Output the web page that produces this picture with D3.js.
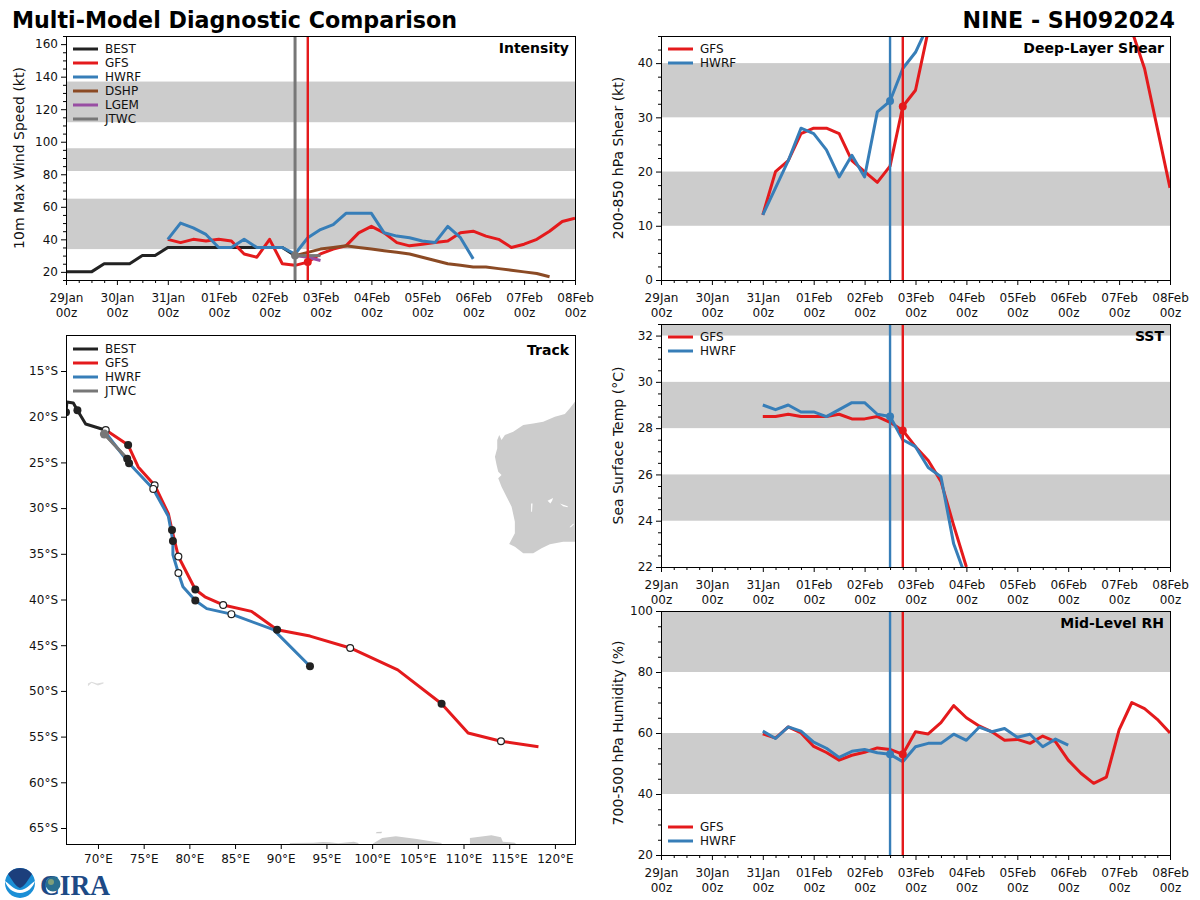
<!DOCTYPE html>
<html lang="en">
<head>
    <meta charset="UTF-8">
    <title>Multi-Model Diagnostic Comparison</title>
    <style>
        html, body { margin: 0; padding: 0; background: #fff; }
        svg { display: block; font-family: "DejaVu Sans", sans-serif; }
    </style>
    <script src="https://cdnjs.cloudflare.com/ajax/libs/d3/7.8.5/d3.min.js"></script>
</head>
<body>
<svg id="chart" width="1200" height="900"></svg>
<script>
// day labels along the time axes, hours are counted from 29Jan 00z
const dayLabels = ['29Jan', '30Jan', '31Jan', '01Feb', '02Feb', '03Feb', '04Feb', '05Feb', '06Feb', '07Feb', '08Feb'];
const stepHours = 6;
const modelStart = 48;      // models start at 31Jan 00z
const analysisHour = 108;   // 02Feb 12z
const gfsHour = 114;        // 02Feb 18z

// intensity (kt)
const bestWind = [20, 20, 20, 25, 25, 25, 30, 30, 35, 35, 35, 35, 35, 35, 35, 35, 35, 35, 30];
const gfsWind = [40, 38, 40, 39, 40, 39, 31, 29, 40, 25, 24, 26, 31, 34, 36, 44, 48, 44, 38, 36, 37, 38, 39, 44, 45, 42, 40, 35, 37, 40, 45, 51, 53];
const hwrfWind = [40, 50, 47, 43, 35, 35, 40, 35, 35, 35, 31, 41, 46, 49, 56, 56, 56, 44, 42, 41, 39, 38, 48, 41, 28];
const dshpWind = [30, 32, 34, 35, 36, 35, 34, 33, 32, 31, 29, 27, 25, 24, 23, 23, 22, 21, 20, 19, 17];
const lgemWind = [30, 29, 27];
const jtwcWind = [30, 30, 30];
const windBands = [[34, 65], [82, 96], [112, 137]];
const windTicks = [20, 40, 60, 80, 100, 120, 140, 160];

// deep-layer shear (kt), null is off the top of the axis
const gfsShear = [12, 20, 22, 27, 28, 28, 27, 22, 20, 18, 21, 32, 35, 46, null, null, null, null, null, null, null, null, null, null, null, null, null, null, null, 46, 39, 28, 17];
const hwrfShear = [12, 17, 22, 28, 27, 24, 19, 23, 19, 31, 33, 39, 42, 47];
const shearBands = [[10, 20], [30, 40]];
const shearTicks = [0, 10, 20, 30, 40];

// sea surface temperature (C), curves leave the axis at the bottom
const gfsSst = [28.5, 28.5, 28.6, 28.5, 28.5, 28.5, 28.6, 28.4, 28.4, 28.5, 28.25, 27.9, 27.2, 26.6, 25.7, 23.8, 22];
const hwrfSst = [29, 28.8, 29, 28.7, 28.7, 28.5, 28.8, 29.1, 29.1, 28.6, 28.5, 27.5, 27.2, 26.3, 25.9, 23, 21.5];
const sstBands = [[24, 26], [28, 30], [32, 33]];
const sstTicks = [22, 24, 26, 28, 30, 32];

// mid-level humidity (%)
const gfsRh = [59.7, 58.3, 62, 60, 55.6, 53.6, 51.1, 52.7, 53.7, 55.1, 54.6, 53, 60.4, 59.7, 63.4, 69, 65, 62.3, 60.4, 57.6, 57.9, 56.6, 59, 57.2, 51.1, 46.8, 43.5, 45.5, 61, 70, 68, 64.5, 60];
const hwrfRh = [60.6, 58.2, 62, 60.6, 57, 55, 52, 54, 54.6, 53.5, 53, 50.6, 55.5, 56.6, 56.6, 59.6, 57.6, 61.9, 60.4, 61.5, 58.6, 59.6, 55.5, 58, 56];
const rhBands = [[40, 60], [80, 100]];
const rhTicks = [20, 40, 60, 80, 100];

// tracks, marker codes: 0 none, 1 filled, 2 open
const bestLon = [66.5, 66.6, 67.3, 67.75, 68.65, 70.6, 70.7];
const bestLat = [-19.5, -18.4, -18.5, -19.3, -20.8, -21.4, -21.9];
const bestMark = [1, 0, 0, 1, 0, 0, 0];
const gfsLon = [70.85, 73.3, 74.4, 76.2, 77.7, 78.1, 78.8, 80.65, 81.7, 83.7, 86.8, 89.6, 93.2, 97.6, 102.8, 107.6, 110.5, 114.1, 118.2];
const gfsLat = [-21.45, -23.1, -25.5, -27.5, -30.6, -32.4, -35.3, -38.9, -39.7, -40.6, -41.3, -43.3, -44, -45.3, -47.7, -51.4, -54.6, -55.5, -56.1];
const gfsMark = [2, 1, 0, 2, 0, 1, 2, 1, 0, 2, 0, 1, 0, 2, 0, 1, 0, 2, 0];
const hwrfLon = [70.8, 73.4, 76.05, 77.7, 78.2, 78.2, 78.8, 79.3, 80.65, 81.9, 84.6, 89.2, 93.2];
const hwrfLat = [-21.7, -25.1, -27.9, -30.9, -33.6, -35.1, -37.1, -38.6, -40.1, -41, -41.6, -43.3, -47.3];
const hwrfMark = [0, 1, 2, 0, 1, 0, 2, 0, 1, 0, 2, 0, 1];
const jtwcLon = [70.7, 73.2];
const jtwcLat = [-21.9, -24.6];
const lonTicks = [70, 75, 80, 85, 90, 95, 100, 105, 110, 115, 120];
const latTicks = [-15, -20, -25, -30, -35, -40, -45, -50, -55, -60, -65];

// land outlines as [lon, lat]
const australia = [[123, -18.36], [122.19, -18.36], [121.64, -19.08], [121.09, -19.7], [120, -20], [118.72, -20.54], [117.63, -20.73], [116.54, -20.91], [115.44, -21.64], [114.53, -22], [114.16, -22.55], [113.91, -22], [113.69, -22.55], [113.69, -23.46], [113.44, -24.37], [113.62, -25.28], [113.8, -26.01], [114.16, -26.38], [113.8, -26.74], [114.16, -27.66], [114.71, -28.75], [115.26, -29.84], [115.62, -31.48], [115.62, -32.76], [115, -33.93], [115.62, -34.22], [116.54, -34.95], [117.63, -34.95], [118.54, -34.4], [119.45, -33.96], [120.91, -33.67], [123, -33.67]];
const lakes = [
    [[117.4, -29.5], [117.55, -29.5], [117.5, -30.4], [117.4, -30.4]],
    [[119.2, -29.2], [119.8, -28.9], [119.7, -29.2], [119.5, -29.5]],
    [[120.55, -29.5], [121, -29.65], [121.4, -29.8], [121.4, -29.9], [120.9, -29.8]],
    [[121.6, -32.1], [122, -31.7], [122.1, -31.75], [121.75, -32.1]]
];
const antarctica = [
    [[100.1, -67], [100.1, -66.7], [101.1, -66.1], [102.6, -65.9], [104.9, -66.2], [107.6, -66.64], [107.6, -67]],
    [[110.7, -67], [110.7, -66.1], [113.05, -65.8], [114.1, -66], [114.3, -66.5], [115.6, -66.6], [116, -67]],
    [[91, -67], [91, -66.64], [93.6, -66.6], [94.6, -66.53], [95.3, -66.57], [96.3, -66.67], [97.99, -66.5], [98.5, -66.65], [98.5, -67]],
    [[100.5, -65.44], [101.1, -65.4], [101, -65.58], [100.4, -65.58]]
];
const kerguelen = [[68.9, -49.5], [69.3, -49.1], [70, -49.4], [70.6, -49.2], [70.6, -49.05], [69.9, -49.2], [69.3, -49], [68.9, -49.2]];

const colors = { BEST: '#222222', GFS: '#e41a1c', HWRF: '#377eb8', DSHP: '#8b4a24', LGEM: '#984ea3', JTWC: '#777777' };
const bandColor = '#cccccc';

const svg = d3.select('#chart');
const hourScale = (x0, x1) => d3.scaleLinear().domain([0, 240]).range([x0, x1]);

function makeClip(id, x0, y0, w, h) {
    svg.append('clipPath').attr('id', id).append('rect')
        .attr('x', x0).attr('y', y0).attr('width', w).attr('height', h);
}

function addLegend(g, x, y, names) {
    names.forEach((name, i) => {
        g.append('line')
            .attr('x1', x).attr('x2', x + 25)
            .attr('y1', y + i * 14).attr('y2', y + i * 14)
            .attr('stroke', colors[name]).attr('stroke-width', 3);
        g.append('text')
            .attr('x', x + 32).attr('y', y + i * 14 + 4)
            .attr('font-size', 12).attr('fill', '#111')
            .text(name);
    });
}

function addCornerTitle(g, x, y, label) {
    g.append('text')
        .attr('x', x).attr('y', y)
        .attr('text-anchor', 'end')
        .attr('font-size', 14).attr('font-weight', 'bold')
        .text(label);
}

function styleAxis(a) {
    a.selectAll('path').attr('stroke', '#000');
    a.selectAll('line').attr('stroke', '#000');
    a.selectAll('text').attr('fill', '#111').attr('font-family', 'DejaVu Sans').attr('font-size', 12);
}

// one time series panel, series are {name, start, values}
function drawPanel(o) {
    const x = hourScale(o.x0, o.x0 + 509);
    const y = d3.scaleLinear().domain(o.domain).range([o.y1, o.y0]);
    const clipId = 'clip-' + o.id;
    makeClip(clipId, o.x0, o.y0, 509, o.y1 - o.y0);

    const g = svg.append('g');
    const plot = g.append('g').attr('clip-path', `url(#${clipId})`);

    plot.selectAll('rect.band').data(o.bands).enter().append('rect')
        .attr('class', 'band')
        .attr('x', o.x0).attr('width', 509)
        .attr('y', d => y(d[1]))
        .attr('height', d => y(d[0]) - y(d[1]))
        .attr('fill', bandColor);

    o.series.forEach(s => {
        const line = d3.line()
            .defined(d => d != null)
            .x((d, i) => x(s.start + i * stepHours))
            .y(d => y(d));
        plot.append('path')
            .attr('d', line(s.values))
            .attr('fill', 'none')
            .attr('stroke', colors[s.name])
            .attr('stroke-width', 3)
            .attr('stroke-linejoin', 'round');
    });

    o.vlines.forEach(v => {
        plot.append('line')
            .attr('x1', x(v.hour)).attr('x2', x(v.hour))
            .attr('y1', o.y0).attr('y2', o.y1)
            .attr('stroke', colors[v.name]).attr('stroke-width', v.name === 'JTWC' ? 3 : 2.4);
        const s = o.series.find(d => d.name === v.name);
        plot.append('circle')
            .attr('cx', x(v.hour))
            .attr('cy', y(s.values[(v.hour - s.start) / stepHours]))
            .attr('r', 4)
            .attr('fill', colors[v.name]);
    });

    const xAxis = d3.axisBottom(x)
        .tickValues(d3.range(0, 241, 24))
        .tickFormat((d, i) => dayLabels[i])
        .tickSize(5).tickSizeOuter(0);
    const xMinor = d3.axisBottom(x)
        .tickValues(d3.range(0, 241, stepHours).filter(h => h % 24))
        .tickFormat('').tickSize(3).tickSizeOuter(0);
    const yAxis = d3.axisLeft(y).tickValues(o.ticks).tickSize(5).tickSizeOuter(0);
    const yMinor = d3.axisLeft(y)
        .tickValues(d3.range(o.domain[0], o.domain[1] + 0.001, o.minor).filter(v => !o.ticks.includes(v)))
        .tickFormat('').tickSize(3).tickSizeOuter(0);

    const gx = g.append('g').attr('transform', `translate(0,${o.y1})`).call(xAxis);
    const gxm = g.append('g').attr('transform', `translate(0,${o.y1})`).call(xMinor);
    const gy = g.append('g').attr('transform', `translate(${o.x0},0)`).call(yAxis);
    const gym = g.append('g').attr('transform', `translate(${o.x0},0)`).call(yMinor);
    [gx, gxm, gy, gym].forEach(styleAxis);

    gx.selectAll('.tick text').each(function (d, i) {
        const t = d3.select(this).text(null).attr('y', 0).attr('dy', null);
        t.append('tspan').attr('x', 0).attr('y', 22).text(dayLabels[i]);
        t.append('tspan').attr('x', 0).attr('y', 37).text('00z');
    });

    g.append('rect')
        .attr('x', o.x0 + 0.5).attr('y', o.y0 + 0.5)
        .attr('width', 509).attr('height', o.y1 - o.y0)
        .attr('fill', 'none').attr('stroke', '#000').attr('stroke-width', 1);

    g.append('text')
        .attr('transform', `translate(${o.labelX},${(o.y0 + o.y1) / 2}) rotate(-90)`)
        .attr('text-anchor', 'middle')
        .attr('font-size', 14).attr('fill', '#111')
        .text(o.ylabel);

    addLegend(g, o.x0 + 7, o.legendY, o.legend);
    addCornerTitle(g, o.x0 + 503, o.y0 + 17, o.title);
}

drawPanel({
    id: 'wind', x0: 66, y0: 36, y1: 280, domain: [15, 165], ticks: windTicks, minor: 5,
    bands: windBands, ylabel: '10m Max Wind Speed (kt)', labelX: 24, title: 'Intensity',
    legend: ['BEST', 'GFS', 'HWRF', 'DSHP', 'LGEM', 'JTWC'], legendY: 49,
    series: [
        { name: 'BEST', start: 0, values: bestWind },
        { name: 'GFS', start: modelStart, values: gfsWind },
        { name: 'HWRF', start: modelStart, values: hwrfWind },
        { name: 'DSHP', start: analysisHour, values: dshpWind },
        { name: 'LGEM', start: analysisHour, values: lgemWind },
        { name: 'JTWC', start: analysisHour, values: jtwcWind }
    ],
    vlines: [{ name: 'GFS', hour: gfsHour }, { name: 'JTWC', hour: analysisHour }]
});

drawPanel({
    id: 'shear', x0: 661, y0: 36, y1: 280, domain: [0, 45], ticks: shearTicks, minor: 2.5,
    bands: shearBands, ylabel: '200-850 hPa Shear (kt)', labelX: 623, title: 'Deep-Layer Shear',
    legend: ['GFS', 'HWRF'], legendY: 49,
    series: [
        { name: 'GFS', start: modelStart, values: gfsShear },
        { name: 'HWRF', start: modelStart, values: hwrfShear }
    ],
    vlines: [{ name: 'GFS', hour: gfsHour }, { name: 'HWRF', hour: analysisHour }]
});

drawPanel({
    id: 'sst', x0: 661, y0: 324, y1: 567, domain: [22, 32.5], ticks: sstTicks, minor: 0.5,
    bands: sstBands, ylabel: 'Sea Surface Temp (°C)', labelX: 623, title: 'SST',
    legend: ['GFS', 'HWRF'], legendY: 337,
    series: [
        { name: 'GFS', start: modelStart, values: gfsSst },
        { name: 'HWRF', start: modelStart, values: hwrfSst }
    ],
    vlines: [{ name: 'GFS', hour: gfsHour }, { name: 'HWRF', hour: analysisHour }]
});

drawPanel({
    id: 'rh', x0: 661, y0: 611, y1: 855, domain: [20, 100], ticks: rhTicks, minor: 5,
    bands: rhBands, ylabel: '700-500 hPa Humidity (%)', labelX: 623, title: 'Mid-Level RH',
    legend: ['GFS', 'HWRF'], legendY: 827,
    series: [
        { name: 'GFS', start: modelStart, values: gfsRh },
        { name: 'HWRF', start: modelStart, values: hwrfRh }
    ],
    vlines: [{ name: 'GFS', hour: gfsHour }, { name: 'HWRF', hour: analysisHour }]
});

// track map
function drawTrack() {
    const x0 = 66, x1 = 575, y0 = 335, y1 = 844;
    const lonX = d3.scaleLinear().domain([66.5, 122.2]).range([x0, x1]);
    const latY = d3.scaleLinear().domain([-66.75, -11.06]).range([y1, y0]);
    makeClip('clip-track', x0, y0, x1 - x0, y1 - y0);

    const g = svg.append('g');
    const plot = g.append('g').attr('clip-path', 'url(#clip-track)');
    const outline = d3.line().x(d => lonX(d[0])).y(d => latY(d[1]));

    [australia, ...antarctica].forEach(poly => {
        plot.append('path').attr('d', outline(poly) + 'Z').attr('fill', bandColor);
    });
    plot.append('path').attr('d', outline(kerguelen) + 'Z').attr('fill', '#dddddd');
    lakes.forEach(poly => {
        plot.append('path').attr('d', outline(poly) + 'Z').attr('fill', '#fff');
    });

    const tracks = [
        { name: 'BEST', lon: bestLon, lat: bestLat, mark: bestMark },
        { name: 'JTWC', lon: jtwcLon, lat: jtwcLat, mark: [0, 1] },
        { name: 'GFS', lon: gfsLon, lat: gfsLat, mark: gfsMark },
        { name: 'HWRF', lon: hwrfLon, lat: hwrfLat, mark: hwrfMark }
    ];
    tracks.forEach(t => {
        const pts = t.lon.map((lon, i) => [lon, t.lat[i]]);
        plot.append('path')
            .attr('d', outline(pts))
            .attr('fill', 'none')
            .attr('stroke', colors[t.name])
            .attr('stroke-width', 3)
            .attr('stroke-linejoin', 'round');
    });
    // JTWC line sits on top of the models near the start, markers go last
    const jtwcPts = jtwcLon.map((lon, i) => [lon, jtwcLat[i]]);
    plot.append('path').attr('d', outline(jtwcPts)).attr('fill', 'none')
        .attr('stroke', colors.JTWC).attr('stroke-width', 3);
    tracks.forEach(t => {
        t.lon.forEach((lon, i) => {
            if (!t.mark[i]) return;
            plot.append('circle')
                .attr('cx', lonX(lon)).attr('cy', latY(t.lat[i]))
                .attr('r', t.mark[i] === 1 ? 4 : 3.4)
                .attr('fill', t.mark[i] === 1 ? '#222' : '#fff')
                .attr('stroke', '#222').attr('stroke-width', t.mark[i] === 1 ? 0 : 1.2);
        });
    });
    plot.append('circle')
        .attr('cx', lonX(jtwcLon[0])).attr('cy', latY(jtwcLat[0]))
        .attr('r', 4.5).attr('fill', colors.JTWC);

    const xAxis = d3.axisBottom(lonX).tickValues(lonTicks).tickFormat(d => d + '°E').tickSize(5).tickSizeOuter(0);
    const yAxis = d3.axisLeft(latY).tickValues(latTicks).tickFormat(d => Math.abs(d) + '°S').tickSize(5).tickSizeOuter(0);
    const gx = g.append('g').attr('transform', `translate(0,${y1})`).call(xAxis);
    const gy = g.append('g').attr('transform', `translate(${x0},0)`).call(yAxis);
    [gx, gy].forEach(styleAxis);
    gx.selectAll('.tick text').attr('y', 10);

    g.append('rect')
        .attr('x', x0 + 0.5).attr('y', y0 + 0.5)
        .attr('width', x1 - x0).attr('height', y1 - y0)
        .attr('fill', 'none').attr('stroke', '#000');

    addLegend(g, x0 + 7, 349, ['BEST', 'GFS', 'HWRF', 'JTWC']);
    addCornerTitle(g, x0 + 503, 355, 'Track');
}
drawTrack();

// headline
svg.append('text').attr('x', 12).attr('y', 28)
    .attr('font-size', 22.2).attr('font-weight', 'bold').attr('fill', '#000')
    .text('Multi-Model Diagnostic Comparison');
svg.append('text').attr('x', 1175).attr('y', 28)
    .attr('text-anchor', 'end')
    .attr('font-size', 22.2).attr('font-weight', 'bold').attr('fill', '#000')
    .text('NINE - SH092024');

// logos in the lower left corner
const logo = svg.append('g');
logo.append('circle').attr('cx', 20).attr('cy', 883).attr('r', 15).attr('fill', '#1b8fd6');
logo.append('path').attr('d', 'M8 874 A15 15 0 0 1 32 874 C28 880 24 887 20 888 C16 887 12 880 8 874Z').attr('fill', '#1c3f7c');
logo.append('path').attr('d', 'M5 881 C10 884 14 890 20 890 C26 890 30 884 35 881 C33 888 27 893 20 893 C13 893 7 888 5 881Z').attr('fill', '#fff');
logo.append('text').attr('x', 40).attr('y', 895)
    .attr('font-family', 'Liberation Serif').attr('font-size', 30).attr('font-weight', 'bold')
    .attr('fill', '#1d4a86').attr('textLength', 70).attr('lengthAdjust', 'spacingAndGlyphs')
    .text('CIRA');
logo.append('circle').attr('cx', 53).attr('cy', 884).attr('r', 7.5).attr('fill', '#2a6f8f');
logo.append('circle').attr('cx', 51).attr('cy', 882).attr('r', 3).attr('fill', '#7f9f7a');
</script>
</body>
</html>
